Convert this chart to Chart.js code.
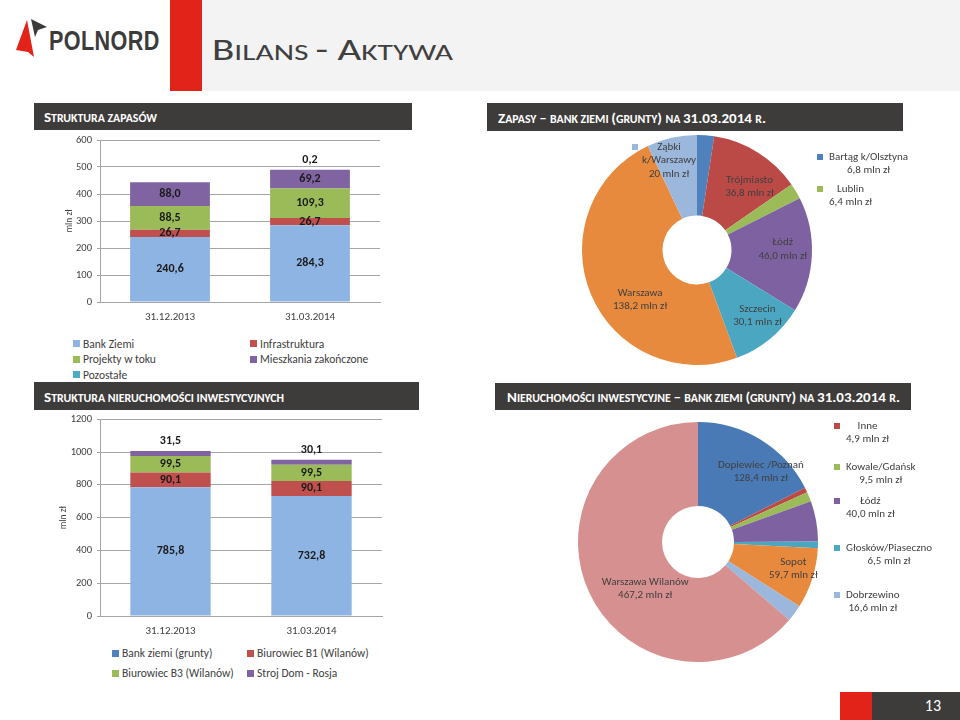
<!DOCTYPE html>
<html>
<head>
<meta charset="utf-8">
<script src="https://cdn.jsdelivr.net/npm/chart.js@4.4.1/dist/chart.umd.min.js"></script>
<style>
  body { margin: 0; width: 960px; height: 720px; position: relative; overflow: hidden; background: #fff;
         font-family: Carlito, Lato, sans-serif; color: #404040; }
  .abs { position: absolute; }
  .bar { position: absolute; background: #3e3c3b; color: #fff; font-weight: bold;
         display: flex; align-items: center; box-sizing: border-box; white-space: nowrap; }
  canvas { position: absolute; }
  .legend { position: absolute; display: grid; font-size: 11.5px; color: #404040; }
  .legend span { display: flex; align-items: center; white-space: nowrap; }
  .legend i { display: inline-block; width: 7px; height: 7px; margin-right: 3px; }
</style>
</head>
<body>

<!-- header -->
<div class="abs" style="left:202px;top:0;width:758px;height:91px;background:#f3f3f3"></div>
<div class="abs" style="left:170px;top:0;width:32px;height:91px;background:#e2231a"></div>
<svg class="abs" style="left:0;top:0" width="60" height="70">
  <polygon points="16,50 27,20 34,57 28,52" fill="#e2231a"/>
  <polygon points="31,19 47,27 38,30 35,37" fill="#3b3b3b"/>
</svg>
<div class="abs" style="left:49px;top:26px;font:bold 27px 'Liberation Sans',sans-serif;color:#3b3b3b;transform:scaleX(0.8);transform-origin:left top;letter-spacing:0.5px">POLNORD</div>
<div class="abs sc" data-big="30" data-small="23" data-w="241" style="left:212px;top:35px;font-size:30px;font-weight:300;line-height:1;color:#404040;white-space:nowrap">Bilans - Aktywa</div>

<!-- section bars -->
<div class="bar" style="left:34px;top:103px;width:378px;height:27px;padding-left:10px"><span class="sc" data-big="14" data-small="11" data-w="113">Struktura zapasów</span></div>
<div class="bar" style="left:487px;top:103px;width:416px;height:28px;padding-left:11px"><span class="sc" data-big="14" data-small="11" data-w="268">Zapasy – bank ziemi (grunty) na 31.03.2014 r.</span></div>
<div class="bar" style="left:34px;top:382px;width:385px;height:28px;padding-left:10px"><span class="sc" data-big="14" data-small="11" data-w="240">Struktura nieruchomości inwestycyjnych</span></div>
<div class="bar" style="left:495px;top:383px;width:416px;height:27px;padding-left:12px"><span class="sc" data-big="14" data-small="11" data-w="393">Nieruchomości inwestycyjne – bank ziemi (grunty) na 31.03.2014 r.</span></div>

<!-- charts -->
<canvas id="stockChart" width="350" height="200" style="left:40px;top:128px"></canvas>
<div id="stockLegend" class="legend" style="left:73px;top:336px;grid-template-columns:177px 1fr;grid-auto-rows:15.5px"></div>

<canvas id="landChart" width="470" height="250" style="left:480px;top:132px"></canvas>

<canvas id="invChart" width="350" height="234" style="left:40px;top:408px"></canvas>
<div id="invLegend" class="legend" style="left:112px;top:643px;grid-template-columns:135px 1fr;grid-auto-rows:20px"></div>

<canvas id="invLandChart" width="470" height="266" style="left:480px;top:414px"></canvas>

<!-- footer -->
<div class="abs" style="left:840px;top:692px;width:32px;height:28px;background:#e2231a"></div>
<div class="abs" style="left:872px;top:692px;width:88px;height:28px;background:#3e3c3b;color:#fff;font-size:16px;line-height:28px;text-align:right;box-sizing:border-box;padding-right:19px">13</div>

<script>
// --- Struktura zapasów ---
var stockDates = ['31.12.2013', '31.03.2014'];
var stockNames = ['Bank Ziemi', 'Infrastruktura', 'Projekty w toku', 'Mieszkania zakończone', 'Pozostałe'];
var bankZiemi = [240.6, 284.3];
var infrastruktura = [26.7, 26.7];
var projektyWToku = [88.5, 109.3];
var mieszkaniaZakonczone = [88.0, 69.2];
var pozostale = [0, 0.2];
var stockAxisMax = 600;
var stockAxisStep = 100;

// --- Zapasy - bank ziemi ---
var landPlaces = ['Bartąg k/Olsztyna', 'Trójmiasto', 'Lublin', 'Łódź', 'Szczecin', 'Warszawa', 'Ząbki\nk/Warszawy'];
var landValues = [6.8, 36.8, 6.4, 46.0, 30.1, 138.2, 20];
var landDecimals = [1, 1, 1, 1, 1, 1, 0];

// --- Struktura nieruchomości inwestycyjnych ---
var invDates = ['31.12.2013', '31.03.2014'];
var invNames = ['Bank ziemi (grunty)', 'Biurowiec B1 (Wilanów)', 'Biurowiec B3 (Wilanów)', 'Stroj Dom - Rosja'];
var bankZiemiGrunty = [785.8, 732.8];
var biurowiecB1 = [90.1, 90.1];
var biurowiecB3 = [99.5, 99.5];
var strojDom = [31.5, 30.1];
var invAxisMax = 1200;
var invAxisStep = 200;

// --- Nieruchomości inwestycyjne - bank ziemi ---
var invPlaces = ['Dopiewiec /Poznań', 'Inne', 'Kowale/Gdańsk', 'Łódź', 'Głosków/Piaseczno', 'Sopot', 'Dobrzewino', 'Warszawa Wilanów'];
var invPlaceValues = [128.4, 4.9, 9.5, 40.0, 6.5, 59.7, 16.6, 467.2];
var invPlaceDecimals = [1, 1, 1, 1, 1, 1, 1, 1];

// colours
var stockColors = ['#8eb4e3', '#c0504d', '#9bbb59', '#8064a2', '#4bacc6'];
var invColors = ['#8eb4e3', '#c0504d', '#9bbb59', '#8064a2'];
var landColors = ['#4f81bd', '#bb4a47', '#9bbb59', '#7e61a0', '#4ba6c2', '#e88a3e', '#9bb7dc'];
var invPlaceColors = ['#4a7ab5', '#bb4a47', '#9bbb59', '#7e61a0', '#4ba6c2', '#e88a3e', '#9bb7dc', '#d6908f'];

// label placement: inside labels are nudged from the slice centre,
// keyed labels sit at an offset from the doughnut centre
var landPlacement = [
    { key: true, dx: 120, dy: -93 },
    { dx: 13, dy: 0 },
    { key: true, dx: 120, dy: -61 },
    { dx: 11, dy: -4 },
    { dx: 13, dy: 8 },
    { dx: 12, dy: 21 },
    { key: true, dx: -65, dy: -103, gap: 10 }
];
var invPlacement = [
    { dx: 22, dy: -4 },
    { key: true, dx: 136, dy: -116 },
    { key: true, dx: 136, dy: -75 },
    { key: true, dx: 136, dy: -41 },
    { key: true, dx: 136, dy: 6 },
    { dx: 21, dy: 3 },
    { key: true, dx: 136, dy: 53 },
    { dx: 18, dy: 14 }
];

var FONT = 'Carlito, Lato, sans-serif';
Chart.defaults.font.family = FONT;
Chart.defaults.color = '#404040';
Chart.defaults.animation = false;

function fmt(v, d) {
    return v.toFixed(d).replace('.', ',');
}

// small caps by hand: lowercase runs become smaller capitals, then fit width
document.querySelectorAll('.sc').forEach(function (el) {
    var text = el.textContent;
    var big = el.dataset.big, small = el.dataset.small;
    var wrap = document.createElement('span');
    wrap.style.display = 'inline-block';
    wrap.style.whiteSpace = 'pre';
    wrap.style.transformOrigin = 'left center';
    var run = '', runLow = null;
    function flush() {
        if (!run) return;
        var s = document.createElement('span');
        s.style.fontSize = (runLow ? small : big) + 'px';
        s.textContent = runLow ? run.toUpperCase() : run;
        wrap.appendChild(s);
        run = '';
    }
    for (var i = 0; i < text.length; i++) {
        var ch = text[i];
        var low = ch !== ch.toUpperCase() || (ch === ' ' && runLow);
        if (low !== runLow) { flush(); runLow = low; }
        run += ch;
    }
    flush();
    el.textContent = '';
    el.appendChild(wrap);
    var w = wrap.getBoundingClientRect().width;
    wrap.style.transform = 'scaleX(' + (el.dataset.w / w) + ')';
});

var barLabels = {
    id: 'barLabels',
    afterDatasetsDraw: function (chart) {
        var ctx = chart.ctx;
        ctx.save();
        ctx.font = 'bold 12px ' + FONT;
        ctx.fillStyle = '#1a1a1a';
        ctx.textAlign = 'center';
        ctx.textBaseline = 'middle';
        chart.data.datasets.forEach(function (ds, i) {
            chart.getDatasetMeta(i).data.forEach(function (bar, j) {
                var v = ds.data[j];
                if (!v) return;
                var y = ds.labelAbove ? bar.y - 10 : (bar.y + bar.base) / 2;
                ctx.fillText(fmt(v, 1), bar.x, y);
            });
        });
        ctx.restore();
    }
};

function sliceLabels(place, decimals) {
    return {
        id: 'sliceLabels',
        afterDatasetsDraw: function (chart) {
            var ctx = chart.ctx;
            var ds = chart.data.datasets[0];
            var lh = 13.5;
            ctx.save();
            ctx.font = '11px ' + FONT;
            ctx.textBaseline = 'middle';
            ctx.textAlign = 'center';
            chart.getDatasetMeta(0).data.forEach(function (arc, i) {
                var lines = chart.data.labels[i].split('\n');
                lines.push(fmt(ds.data[i], decimals[i]) + ' mln zł');
                var p = place[i];
                if (p.key) {
                    var kx = arc.x + p.dx, ky = arc.y + p.dy;
                    ctx.fillStyle = ds.backgroundColor[i];
                    ctx.fillRect(kx, ky - 3, 6, 6);
                    var w = 0;
                    lines.forEach(function (t) { w = Math.max(w, ctx.measureText(t).width); });
                    var cx = kx + (p.gap || 12) + w / 2;
                    ctx.fillStyle = '#404040';
                    lines.forEach(function (t, k) { ctx.fillText(t, cx, ky + k * lh); });
                } else {
                    var c = arc.tooltipPosition();
                    var y0 = c.y + p.dy - (lines.length - 1) * lh / 2;
                    ctx.fillStyle = '#404040';
                    lines.forEach(function (t, k) { ctx.fillText(t, c.x + p.dx, y0 + k * lh); });
                }
            });
            ctx.restore();
        }
    };
}

function makeBar(id, dates, names, series, colors, axisMax, axisStep, box) {
    var datasets = names.map(function (n, i) {
        return {
            label: n,
            data: series[i],
            backgroundColor: colors[i],
            labelAbove: i === names.length - 1,
            barPercentage: box.barPct,
            categoryPercentage: 1
        };
    });
    return new Chart(document.getElementById(id), {
        type: 'bar',
        data: { labels: dates, datasets: datasets },
        options: {
            responsive: false,
            layout: { padding: box.pad },
            plugins: { legend: { display: false }, tooltip: { enabled: false } },
            scales: {
                x: {
                    stacked: true,
                    grid: { display: false, drawTicks: false },
                    border: { color: '#a6a6a6' },
                    ticks: { padding: 9, font: { size: 11 }, maxRotation: 0 },
                    afterFit: function (s) { s.height = box.xh; }
                },
                y: {
                    stacked: true,
                    min: 0,
                    max: axisMax,
                    ticks: { stepSize: axisStep, padding: 5, font: { size: 10.5 }, callback: function (v) { return v; } },
                    grid: { color: '#a6a6a6', tickLength: 3 },
                    border: { color: '#a6a6a6' },
                    title: { display: true, text: 'mln zł', font: { size: 9.5 }, padding: { top: box.titlePad, bottom: 0 } },
                    afterFit: function (s) { s.width = box.yw; }
                }
            }
        },
        plugins: [barLabels]
    });
}

function makeDoughnut(id, places, values, decimals, colors, place, pad) {
    return new Chart(document.getElementById(id), {
        type: 'doughnut',
        data: { labels: places, datasets: [{ data: values, backgroundColor: colors, borderWidth: 0 }] },
        options: {
            responsive: false,
            cutout: '30%',
            layout: { padding: pad },
            plugins: { legend: { display: false }, tooltip: { enabled: false } }
        },
        plugins: [sliceLabels(place, decimals)]
    });
}

function makeLegend(id, names, colors) {
    var el = document.getElementById(id);
    names.forEach(function (n, i) {
        var item = document.createElement('span');
        var box = document.createElement('i');
        box.style.background = colors[i];
        item.appendChild(box);
        item.appendChild(document.createTextNode(n));
        el.appendChild(item);
    });
}

makeBar('stockChart', stockDates, stockNames,
    [bankZiemi, infrastruktura, projektyWToku, mieszkaniaZakonczone, pozostale],
    stockColors, stockAxisMax, stockAxisStep,
    { pad: { left: 0, right: 10, top: 12, bottom: 0 }, xh: 26, yw: 60, titlePad: 24, barPct: 0.57 });
makeLegend('stockLegend', stockNames, stockColors);

makeDoughnut('landChart', landPlaces, landValues, landDecimals, landColors, landPlacement,
    { left: 102, right: 138, top: 3, bottom: 17 });

makeBar('invChart', invDates, invNames,
    [bankZiemiGrunty, biurowiecB1, biurowiecB3, strojDom],
    invColors, invAxisMax, invAxisStep,
    { pad: { left: 0, right: 8, top: 11, bottom: 0 }, xh: 26, yw: 60, titlePad: 18, barPct: 0.57 });
makeLegend('invLegend', invNames, ['#4f81bd', '#c0504d', '#9bbb59', '#8064a2']);

makeDoughnut('invLandChart', invPlaces, invPlaceValues, invPlaceDecimals, invPlaceColors, invPlacement,
    { left: 98, right: 132, top: 8, bottom: 18 });
</script>
</body>
</html>
